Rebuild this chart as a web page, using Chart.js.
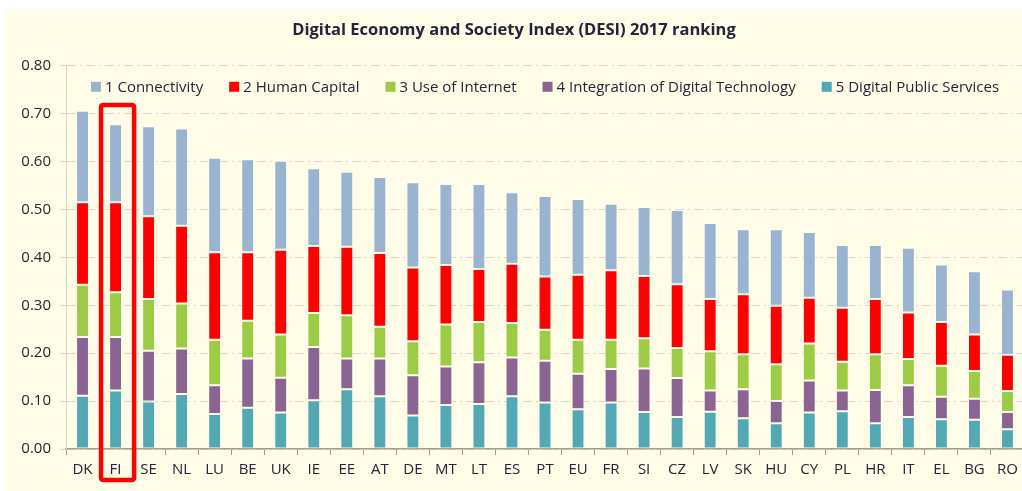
<!DOCTYPE html>
<html>
<head>
<meta charset="utf-8">
<script src="https://cdn.jsdelivr.net/npm/chart.js@4/dist/chart.umd.min.js"></script>
<style>
    body { margin: 0; background: #ffffff; }
    #panel {
        position: absolute; left: 4px; top: 9px;
        width: 1018px; height: 482px;
        background: #FFFDE8; overflow: hidden;
    }
</style>
</head>
<body>
<div id="panel"><canvas id="myChart" width="1020" height="482"></canvas></div>
<script>
// Data
const categories = ['DK', 'FI', 'SE', 'NL', 'LU', 'BE', 'UK', 'IE', 'EE', 'AT', 'DE', 'MT', 'LT', 'ES', 'PT',
    'EU', 'FR', 'SI', 'CZ', 'LV', 'SK', 'HU', 'CY', 'PL', 'HR', 'IT', 'EL', 'BG', 'RO'];

const connectivity = [0.191, 0.163, 0.188, 0.203, 0.197, 0.194, 0.185, 0.162, 0.157, 0.159, 0.178, 0.169, 0.177, 0.149, 0.168,
    0.158, 0.139, 0.144, 0.155, 0.159, 0.136, 0.160, 0.137, 0.131, 0.113, 0.135, 0.120, 0.132, 0.136];
const humanCapital = [0.172, 0.188, 0.173, 0.162, 0.183, 0.143, 0.177, 0.140, 0.143, 0.154, 0.154, 0.124, 0.111, 0.124, 0.111,
    0.136, 0.145, 0.130, 0.133, 0.109, 0.125, 0.122, 0.096, 0.113, 0.115, 0.097, 0.091, 0.076, 0.076];
const useOfInternet = [0.109, 0.093, 0.108, 0.094, 0.095, 0.079, 0.090, 0.071, 0.090, 0.066, 0.071, 0.088, 0.084, 0.072, 0.065,
    0.071, 0.061, 0.063, 0.063, 0.082, 0.073, 0.077, 0.077, 0.060, 0.075, 0.055, 0.065, 0.058, 0.044];
const integration = [0.123, 0.112, 0.106, 0.095, 0.060, 0.103, 0.073, 0.111, 0.064, 0.079, 0.084, 0.080, 0.087, 0.081, 0.087,
    0.074, 0.070, 0.091, 0.081, 0.044, 0.061, 0.046, 0.067, 0.043, 0.069, 0.066, 0.047, 0.044, 0.036];
const publicServices = [0.111, 0.122, 0.099, 0.115, 0.073, 0.086, 0.076, 0.102, 0.125, 0.110, 0.070, 0.092, 0.094, 0.110, 0.097,
    0.083, 0.097, 0.077, 0.067, 0.078, 0.064, 0.054, 0.076, 0.079, 0.054, 0.067, 0.062, 0.061, 0.041];

const highlighted = 'FI';

const textColor = '#24243a';
const font = { family: 'Open Sans', size: 15 };

// Legend drawn inside the plot, one row, centred on the plot area
const inPlotLegend = {
    id: 'inPlotLegend',
    afterDraw: (chart) => {
        const ctx = chart.ctx;
        const area = chart.chartArea;
        const items = chart.data.datasets.slice().reverse();
        ctx.save();
        ctx.font = '15px "Open Sans"';
        ctx.textBaseline = 'middle';
        const widths = items.map((d) => 14 + ctx.measureText(d.label).width);
        const gap = 26;
        const total = widths.reduce((a, b) => a + b, 0) + gap * (items.length - 1);
        let x = (area.left + area.right) / 2 - total / 2;
        const y = area.top + 21;
        items.forEach((d, i) => {
            ctx.fillStyle = d.backgroundColor;
            ctx.fillRect(x, y - 5, 10, 10);
            ctx.fillStyle = textColor;
            ctx.fillText(d.label, x + 14, y + 1);
            x += widths[i] + gap;
        });
        ctx.restore();
    }
};

// Red frame round the highlighted country
const highlightBox = {
    id: 'highlightBox',
    afterDraw: (chart) => {
        const x = chart.scales.x;
        const y = chart.scales.y;
        const ctx = chart.ctx;
        const cw = x.getPixelForValue(1) - x.getPixelForValue(0);
        const cx = x.getPixelForValue(categories.indexOf(highlighted)) + 2;
        const top = y.getPixelForValue(0.718);
        ctx.save();
        ctx.strokeStyle = '#FF0000';
        ctx.lineWidth = 4.5;
        ctx.beginPath();
        ctx.roundRect(cx - cw / 2, top, cw, y.bottom + 31 - top, 2);
        ctx.stroke();
        ctx.restore();
    }
};

const data = {
    labels: categories,
    datasets: [
        { label: '5 Digital Public Services', data: publicServices, backgroundColor: '#52A9B4' },
        { label: '4 Integration of Digital Technology', data: integration, backgroundColor: '#8A6591' },
        { label: '3 Use of Internet', data: useOfInternet, backgroundColor: '#9ECB45' },
        { label: '2 Human Capital', data: humanCapital, backgroundColor: '#FF0000' },
        { label: '1 Connectivity', data: connectivity, backgroundColor: '#9AB3CE' }
    ]
};

const config = {
    type: 'bar',
    data: data,
    options: {
        responsive: false,
        animation: false,
        datasets: {
            bar: {
                categoryPercentage: 1,
                barPercentage: 0.39,
                borderWidth: 1,
                borderColor: 'rgba(255, 255, 255, 0.3)',
                borderSkipped: false
            }
        },
        layout: { padding: 0 },
        plugins: {
            title: {
                display: true,
                text: 'Digital Economy and Society Index (DESI) 2017 ranking',
                color: textColor,
                font: { family: 'Open Sans', size: 16.5, weight: 'bold' },
                padding: { top: 11, bottom: 26 }
            },
            legend: { display: false },
            tooltip: { enabled: false }
        },
        scales: {
            x: {
                stacked: true,
                afterFit: (scale) => { scale.height = 42; },
                grid: { drawOnChartArea: false, tickLength: 6, tickColor: '#A59C8C', offset: true },
                border: { color: '#A59C8C', width: 1.5 },
                ticks: { color: textColor, font: font, padding: 6, maxRotation: 0, autoSkip: false }
            },
            y: {
                stacked: true,
                min: 0,
                max: 0.8,
                afterFit: (scale) => { scale.width = 62; },
                grid: { color: '#E6D4CC', tickLength: 6, tickColor: '#E6D4CC' },
                border: { color: '#DDD3C4', dash: [9, 4, 2, 4] },
                ticks: {
                    stepSize: 0.1,
                    color: textColor,
                    font: font,
                    padding: 9,
                    callback: (v) => v.toFixed(2)
                }
            }
        }
    },
    plugins: [inPlotLegend, highlightBox]
};

const graph = new Chart(
    document.getElementById('myChart'),
    config
);
</script>
</body>
</html>
